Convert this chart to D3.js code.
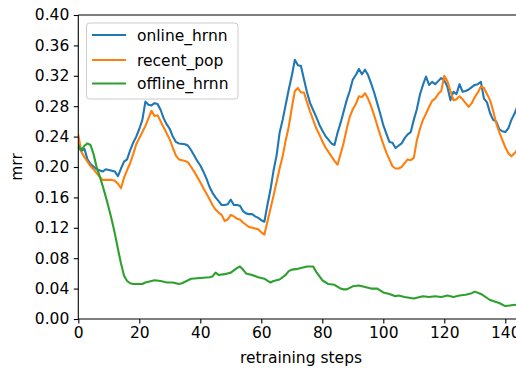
<!DOCTYPE html>
<html><head><meta charset="utf-8">
<script src="https://cdn.jsdelivr.net/npm/d3@7"></script>
<style>body{margin:0;background:#fff}svg{display:block}text{font-family:"DejaVu Sans",sans-serif}</style>
</head><body>
<svg id="c" width="516" height="368"></svg>
<script>
const seriesNames = ["online_hrnn", "recent_pop", "offline_hrnn"];
const seriesColors = ["#1f77b4", "#ff7f0e", "#2ca02c"];
const yTicks = [0, 0.04, 0.08, 0.12, 0.16, 0.20, 0.24, 0.28, 0.32, 0.36, 0.40];
const xTicks = [0, 20, 40, 60, 80, 100, 120, 140];

const onlineSteps = [0,1,2,3,4,6,8,9,10,12,13,14,15,16,17,18,19,20,21,22,23,24,25,26,27,28,29,30,31,32,33,35,36,37,38,39,40,41,42,43,44,45,46,47,48,49,50,51,52,53,54,55,56,57,58,59,60,61,62,63,64,65,66,67,68,69,70,71,72,73,74,75,76,77,78,79,80,81,82,83,84,85,86,87,88,89,90,91,92,93,94,95,96,97,98,99,100,101,102,103,104,105,106,107,108,109,110,111,112,113,114,115,116,117,118,119,120,121,122,123,124,125,126,127,128,129,130,131,132,133,134,135,136,137,138,139,140,141,142,143,144];
const onlineMrr = [0.226,0.221,0.224,0.210,0.204,0.197,0.194,0.197,0.196,0.194,0.188,0.198,0.207,0.210,0.222,0.232,0.240,0.250,0.262,0.286,0.282,0.281,0.284,0.283,0.275,0.264,0.256,0.250,0.240,0.233,0.231,0.230,0.228,0.222,0.215,0.208,0.202,0.194,0.185,0.174,0.166,0.160,0.155,0.150,0.150,0.151,0.157,0.150,0.150,0.149,0.142,0.139,0.138,0.138,0.135,0.133,0.130,0.128,0.150,0.170,0.195,0.215,0.245,0.262,0.282,0.302,0.320,0.341,0.334,0.333,0.315,0.298,0.284,0.275,0.266,0.256,0.248,0.241,0.236,0.231,0.229,0.245,0.258,0.273,0.288,0.300,0.315,0.321,0.329,0.322,0.328,0.321,0.310,0.298,0.284,0.270,0.255,0.244,0.233,0.232,0.225,0.228,0.231,0.238,0.243,0.246,0.262,0.276,0.295,0.308,0.319,0.308,0.312,0.309,0.313,0.317,0.314,0.306,0.288,0.299,0.296,0.309,0.299,0.300,0.302,0.305,0.308,0.309,0.312,0.290,0.285,0.271,0.262,0.260,0.250,0.247,0.246,0.251,0.262,0.270,0.280];

const recentSteps = [0,1,2,3,4,5,6,7,8,9,10,11,12,13,14,15,16,17,18,19,20,21,22,23,24,25,26,27,28,29,30,31,32,33,34,35,36,37,38,39,40,41,42,43,44,45,46,47,48,49,50,51,52,53,54,55,56,57,58,59,60,61,62,63,64,65,66,67,68,69,70,71,72,73,74,75,76,77,78,79,80,81,82,83,84,85,86,87,88,89,90,91,92,93,94,95,96,97,98,99,100,101,102,103,104,105,106,107,108,109,110,111,112,113,114,115,116,117,118,119,120,121,122,123,124,125,126,127,128,129,130,131,132,133,134,135,136,137,138,139,140,141,142,143,144];
const recentMrr = [0.242,0.220,0.213,0.207,0.201,0.197,0.192,0.187,0.183,0.183,0.183,0.183,0.182,0.178,0.172,0.186,0.196,0.205,0.217,0.230,0.238,0.246,0.254,0.264,0.274,0.267,0.268,0.260,0.252,0.244,0.236,0.225,0.215,0.210,0.209,0.208,0.206,0.200,0.194,0.187,0.180,0.172,0.165,0.158,0.150,0.144,0.140,0.137,0.129,0.131,0.137,0.135,0.132,0.131,0.127,0.124,0.121,0.120,0.119,0.118,0.114,0.111,0.128,0.145,0.162,0.180,0.198,0.214,0.235,0.253,0.278,0.300,0.304,0.298,0.298,0.285,0.273,0.262,0.251,0.243,0.234,0.226,0.220,0.214,0.208,0.203,0.217,0.232,0.250,0.266,0.276,0.283,0.293,0.292,0.297,0.290,0.280,0.268,0.255,0.242,0.230,0.219,0.210,0.201,0.198,0.198,0.200,0.205,0.210,0.209,0.212,0.235,0.250,0.262,0.270,0.279,0.287,0.290,0.296,0.300,0.320,0.313,0.300,0.288,0.289,0.293,0.289,0.284,0.279,0.284,0.292,0.298,0.306,0.304,0.296,0.288,0.274,0.258,0.246,0.236,0.226,0.218,0.214,0.218,0.223];

const offlineSteps = [0,1,2,3,4,5,6,7,8,9,10,11,12,13,14,15,16,17,18,20,21,22,23,25,27,28,29,31,32,33,34,35,37,40,43,44,45,46,48,50,52,53,54,55,57,59,61,63,64,66,68,69,70,72,75,77,78,80,82,84,86,87,88,90,92,94,96,98,100,102,104,105,107,110,113,115,117,119,121,123,125,127,129,130,132,135,138,140,142,144];
const offlineMrr = [0.229,0.222,0.228,0.231,0.229,0.217,0.200,0.188,0.175,0.161,0.146,0.130,0.112,0.092,0.073,0.057,0.050,0.047,0.046,0.046,0.046,0.048,0.049,0.051,0.050,0.049,0.048,0.048,0.047,0.046,0.047,0.049,0.053,0.054,0.055,0.056,0.061,0.058,0.059,0.061,0.067,0.069,0.065,0.060,0.058,0.055,0.053,0.048,0.050,0.052,0.058,0.063,0.065,0.066,0.069,0.069,0.062,0.051,0.046,0.045,0.040,0.039,0.039,0.043,0.044,0.042,0.040,0.040,0.035,0.033,0.030,0.031,0.029,0.027,0.030,0.029,0.030,0.029,0.031,0.029,0.031,0.032,0.034,0.036,0.033,0.025,0.021,0.017,0.018,0.019];

const stepsList = [onlineSteps, recentSteps, offlineSteps];
const valuesList = [onlineMrr, recentMrr, offlineMrr];
console.log(onlineSteps.length, onlineMrr.length, recentSteps.length, recentMrr.length, offlineSteps.length, offlineMrr.length);

const svg = d3.select("#c");
const mLeft = 78.3, mTop = 15, mBottom = 319, mRight = 530;
const x = d3.scaleLinear().domain([0, 140]).range([mLeft, 505.3]);
const y = d3.scaleLinear().domain([0, 0.40]).range([mBottom, mTop]);
const FS = 15.5;

svg.append("clipPath").attr("id", "clip").append("rect")
  .attr("x", mLeft).attr("y", mTop).attr("width", mRight - mLeft).attr("height", mBottom - mTop);

const line = d3.line().x(d => x(d[0])).y(d => y(d[1]));
const g = svg.append("g").attr("clip-path", "url(#clip)");
seriesNames.forEach((name, i) => {
  const n = Math.min(stepsList[i].length, valuesList[i].length);
  const pts = d3.range(n).map(j => [stepsList[i][j], valuesList[i][j]]);
  g.append("path").datum(pts).attr("d", line)
    .attr("fill", "none").attr("stroke", seriesColors[i])
    .attr("stroke-width", 2.1).attr("stroke-linejoin", "round").attr("stroke-linecap", "square");
});

const yAxis = d3.axisLeft(y).tickValues(yTicks).tickFormat(d3.format(".2f")).tickSizeOuter(0).tickSize(4.5).tickPadding(4.5);
const yg = svg.append("g").attr("transform", `translate(${mLeft},0)`).call(yAxis);
const xAxis = d3.axisBottom(x).tickValues(xTicks).tickFormat(d3.format("d")).tickSizeOuter(0).tickSize(4.5).tickPadding(3.5);
const xg = svg.append("g").attr("transform", `translate(0,${mBottom})`).call(xAxis);
[yg, xg].forEach(a => {
  a.select(".domain").remove();
  a.selectAll("line").attr("stroke", "#000").attr("stroke-width", 1.1);
  a.selectAll("text").attr("font-size", FS).attr("font-family", "DejaVu Sans").attr("fill", "#000");
});
svg.append("line").attr("x1", mLeft).attr("x2", mLeft).attr("y1", mTop).attr("y2", mBottom).attr("stroke", "#000").attr("stroke-width", 1.1);
svg.append("line").attr("x1", mLeft).attr("x2", 516).attr("y1", mBottom).attr("y2", mBottom).attr("stroke", "#000").attr("stroke-width", 1.1);
svg.append("line").attr("x1", mLeft).attr("x2", 516).attr("y1", mTop).attr("y2", mTop).attr("stroke", "#000").attr("stroke-width", 1.1);

svg.append("text").attr("x", 301).attr("y", 363).attr("text-anchor", "middle").attr("font-size", FS).text("retraining steps");
svg.append("text").attr("transform", "translate(22,167) rotate(-90)").attr("text-anchor", "middle").attr("font-size", FS).text("mrr");

const lg = svg.append("g");
lg.append("rect").attr("x", 86.5).attr("y", 23).attr("width", 151.5).attr("height", 76).attr("rx", 3)
  .attr("fill", "#fff").attr("fill-opacity", 0.8).attr("stroke", "#ccc").attr("stroke-width", 1);
const legY = [35, 60, 83.5];
seriesNames.forEach((name, i) => {
  lg.append("line").attr("x1", 92).attr("x2", 126).attr("y1", legY[i]).attr("y2", legY[i])
    .attr("stroke", seriesColors[i]).attr("stroke-width", 2.1);
  lg.append("text").attr("x", 137).attr("y", legY[i]).attr("dy", "0.36em").attr("font-size", FS).text(name);
});
</script>
</body></html>
